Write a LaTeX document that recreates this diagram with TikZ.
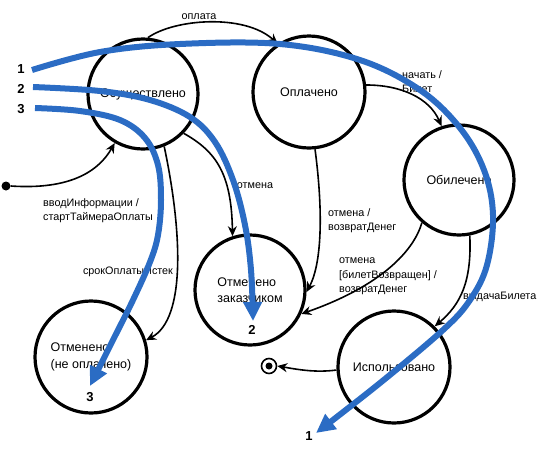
\documentclass[tikz,border=0pt]{standalone}
\usepackage{fontspec}
\setmainfont{Liberation Sans}
\usetikzlibrary{arrows.meta}
\definecolor{annblue}{RGB}{43,108,196}
\begin{document}
\begin{tikzpicture}[x=1pt,y=-1pt,
  state/.style={circle,draw,line width=3.2pt,inner sep=0pt,font=\fontsize{12.5}{16.5}\selectfont,align=left},
  lbl/.style={font=\fontsize{10.8}{14.5}\selectfont,align=left,inner sep=0pt},
  edge/.style={line width=1.6pt,-{Stealth[length=10pt,width=9pt]}},
  ann/.style={line width=6pt,annblue,-{Triangle[length=19pt,width=18pt]}},
  num/.style={font=\fontsize{13}{13}\selectfont\bfseries,inner sep=0pt}]
\useasboundingbox (0,0) rectangle (545,450);

% states
\node[state,minimum size=110pt] (A) at (143,94) {Осуществлено};
\node[state,minimum size=112pt] (B) at (309,92) {Оплачено};
\node[state,minimum size=110pt] (C) at (459,180) {Обилечено};
\node[state,minimum size=110pt] (D) at (250,290) {Отменено\\заказчиком};
\node[state,minimum size=112pt] (E) at (91,357) {Отменено\\(не оплачено)};
\node[state,minimum size=112pt] (F) at (394,367) {Использовано};
\node[circle,draw,line width=1.6pt,minimum size=15pt,inner sep=0pt] (fin) at (269,366) {};
\node[circle,fill,minimum size=7pt,inner sep=0pt] (finIn) at (fin.center) {};
\node[circle,fill,minimum size=9pt,inner sep=0pt] (init) at (6,186) {};

% transitions
\draw[edge] (init.east) .. controls +(60,4) and +(-16,28) .. (A.240);
\draw[edge] (A.85) .. controls +(27,-19) and +(-33,-30) .. (B.123);
\draw[edge] (B.7) .. controls +(35,0) and +(-12,-28) .. (C.108);
\draw[edge] (A.-44) .. controls +(32,18) and +(-1,-63) .. (D.108);
\draw[edge] (A.-68) .. controls +(18,85) and +(40,-21) .. (E.17);
\draw[edge] (B.-84) .. controls +(7,52) and +(17,-32) .. (D.-2);
\draw[edge] (C.229) .. controls +(-8,28) and +(80,-28) .. (D.-25);
\draw[edge] (C.-79) .. controls +(2,46) and +(26,-22) .. (F.45);
\draw[edge] (F.183) .. controls +(-22,3) and +(18,3) .. (fin.east);

% transition labels
\node[lbl] (lOpl) at (199,17) {оплата};
\node[lbl,anchor=west] (lNach) at (402,81.5) {начать /\\Билет};
\node[lbl] (lOtm1) at (255,186) {отмена};
\node[lbl,anchor=west] (lVvod) at (43,210.5) {вводИнформации /\\стартТаймераОплаты};
\node[lbl,anchor=west] (lOtm2) at (328,220.5) {отмена /\\возвратДенег};
\node[lbl] (lSrok) at (128,272) {срокОплатыИстек};
\node[lbl,anchor=west] (lOtm3) at (339,276.5) {отмена\\{[}билетВозвращен{]} /\\возвратДенег};
\node[lbl,anchor=west] (lVyd) at (463,297) {выдачаБилета};

% annotation numbers
\node[num] (n1a) at (21,69) {1};
\node[num] (n2a) at (21,89) {2};
\node[num] (n3a) at (21,109) {3};
\node[num] (n1b) at (309,436) {1};
\node[num] (n2b) at (252,330) {2};
\node[num] (n3b) at (90,397) {3};

\coordinate (b1s) at (32,70);
\coordinate (b1e) at (316,433);
\coordinate (b2s) at (33,87);
\coordinate (b2e) at (253,321);
\coordinate (b3s) at (35,108);
\coordinate (b3e) at (90,386);

\draw[ann] plot[smooth,tension=0.6] coordinates {(b1s) (100,52) (180,44) (280,44) (360,60) (420,90) (460,128) (484,170) (493,215) (487,265) (470,300) (443,330) (380,383) (b1e)};
\draw[ann] plot[smooth,tension=0.6] coordinates {(b2s) (100,91) (150,100) (190,117) (215,142) (233,180) (245,225) (251,270) (b2e)};
\draw[ann] plot[smooth,tension=0.6] coordinates {(b3s) (80,111) (120,120) (145,138) (158,165) (161,200) (158,235) (150,262) (133,300) (113,340) (b3e)};
\end{tikzpicture}
\end{document}
